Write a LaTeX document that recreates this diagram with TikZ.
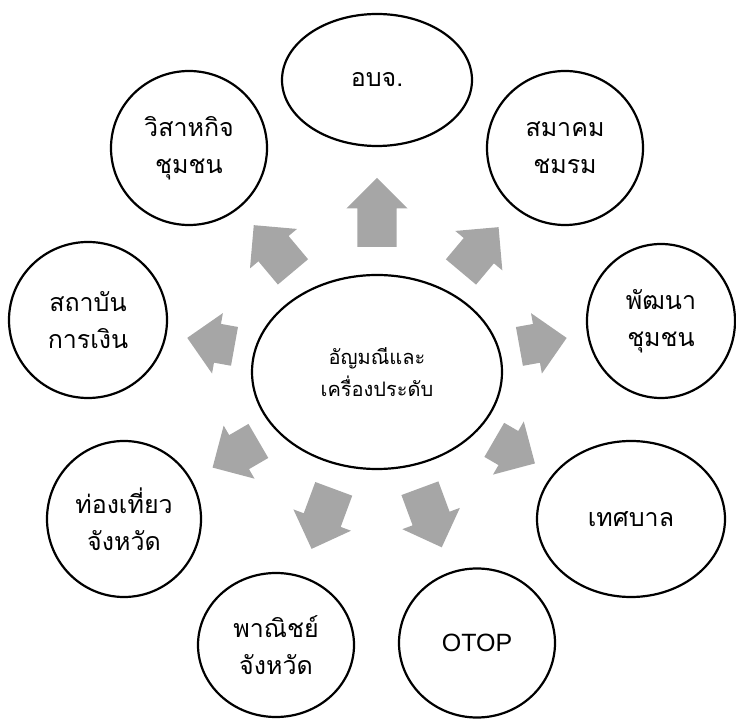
\documentclass[tikz,border=0pt]{standalone}
\usepackage{fontspec}
\newfontfamily\thaifont[Script=Thai]{Loma}
\newfontfamily\latinfont{Liberation Sans}
\usetikzlibrary{shapes.geometric,shapes.arrows,calc}
\definecolor{arrowgray}{HTML}{A6A6A6}
\tikzset{
  bubble/.style={draw, ellipse, line width=2.2pt, inner sep=0pt, align=center,
    font=\thaifont\fontsize{25}{37}\selectfont},
  blockarr/.style={single arrow, fill=arrowgray, draw=none, inner xsep=0pt,
    inner ysep=19.5pt, minimum width=61pt, single arrow head extend=11pt, anchor=tail}
}

\begin{document}
\begin{tikzpicture}[x=1pt,y=1pt]
\useasboundingbox (0,0) rectangle (736,720);
\node[bubble, minimum width=250pt, minimum height=194pt,
  font=\thaifont\fontsize{20}{32}\selectfont] (gem) at (377,348) {อัญมณีและ\\เครื่องประดับ};
\node[bubble, minimum width=190pt, minimum height=132pt] (obj) at (377,640) {อบจ.};
\node[bubble, minimum width=156pt, minimum height=154pt] (wisa) at (189,572) {วิสาหกิจ\\ชุมชน};
\node[bubble, minimum width=156pt, minimum height=154pt] (club) at (565,572) {สมาคม\\ชมรม};
\node[bubble, minimum width=158pt, minimum height=156pt] (bank) at (88,400) {สถาบัน\\การเงิน};
\node[bubble, minimum width=148pt, minimum height=154pt] (dev) at (661,399) {พัฒนา\\ชุมชน};
\node[bubble, minimum width=154pt, minimum height=156pt] (tour) at (124,201) {ท่องเที่ยว\\จังหวัด};
\node[bubble, minimum width=188pt, minimum height=156pt] (city) at (631,201) {เทศบาล};
\node[bubble, minimum width=156pt, minimum height=144pt] (trade) at (276,75) {พาณิชย์\\จังหวัด};
\node[bubble, minimum width=156pt, minimum height=149pt,
  font=\latinfont\fontsize{25}{30}\selectfont] (otop) at (477,77) {OTOP};

% arrows from the centre
\foreach \tgt/\dist/\len/\ang in {obj/125/69/90, wisa/130.5/61/130, club/130.4/58.5/50,
  bank/144.6/48/169.8, dev/144.5/48/10.2, tour/137/53/210.2, city/135.3/47/-30.1,
  trade/124.4/64/249.7, otop/123.7/63/290.3}
  \node[blockarr, minimum height=\len pt, rotate=\ang] (arr-\tgt)
    at ($(gem.center)!\dist pt!(\tgt.center)$) {};
\end{tikzpicture}
\end{document}
